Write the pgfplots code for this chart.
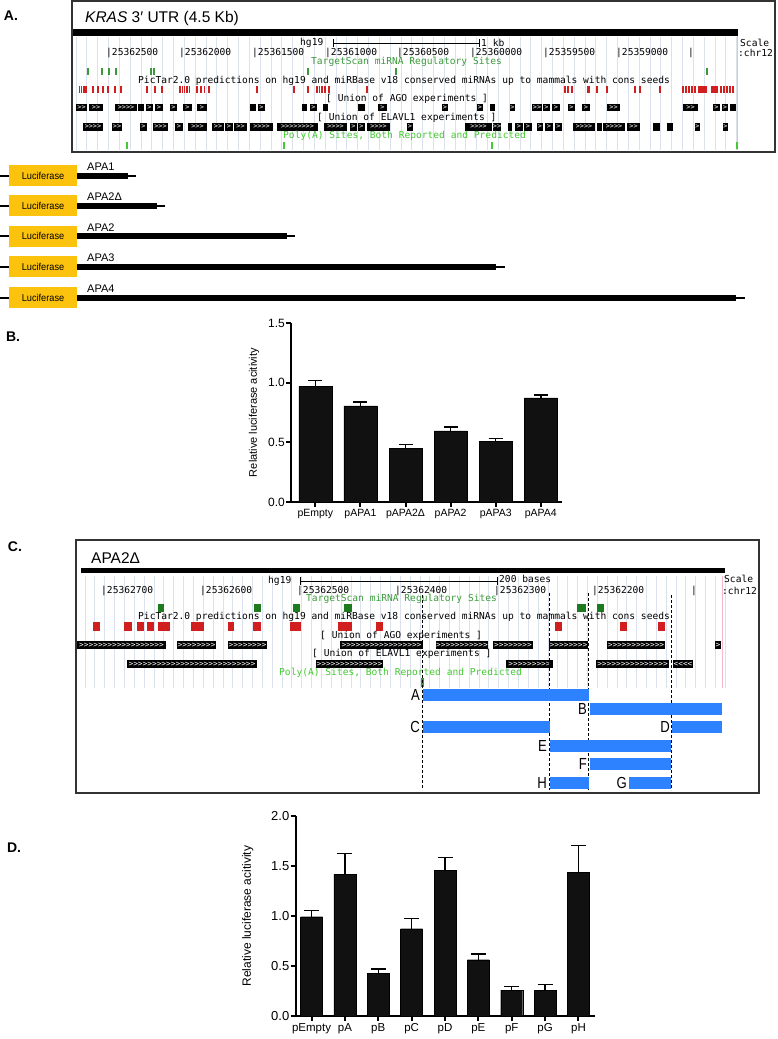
\documentclass[border=0pt]{standalone}
\usepackage{pgfplots}
\pgfplotsset{compat=1.18}
\usepackage{fontspec}
\setmainfont{Liberation Sans}
\setmonofont{DejaVu Sans Mono}
\definecolor{lucy}{HTML}{FCC30E}
\definecolor{tsgreen}{HTML}{3A9A3A}
\definecolor{pagreen}{HTML}{44C833}
\definecolor{gsq}{HTML}{1E7A1E}
\definecolor{rtk}{HTML}{D11F1F}
\definecolor{gridc}{HTML}{DCE1EE}
\definecolor{pinkl}{HTML}{F4B8C8}
\definecolor{blueb}{HTML}{2C82FF}
\definecolor{barc}{HTML}{111111}
\newcommand{\fs}[1]{\fontsize{#1}{#1}\selectfont}
\newcommand{\chev}[2]{\foreach\i in {1,...,#1}{#2}}
\tikzset{tt/.style={font=\fs{9.6}\ttfamily, anchor=west, inner sep=0pt},
  seg/.style={line width=#1}}
\begin{document}
\begin{tikzpicture}
\useasboundingbox (0pt,0pt) rectangle (778pt,-1039pt);
% ---------------- diagram layer (pixel coordinates) ----------------
\begin{axis}[at={(0pt,0pt)}, anchor=north west, scale only axis,
  width=778pt, height=1039pt, xmin=0, xmax=778, ymin=0, ymax=1039,
  y dir=reverse, hide axis, clip=false, unbounded coords=jump]
% panel letters
\node[font=\fs{14}\bfseries] at (axis cs:11,16) {A.};
\node[font=\fs{14}\bfseries] at (axis cs:13,337) {B.};
\node[font=\fs{14}\bfseries] at (axis cs:15,547) {C.};
\node[font=\fs{14}\bfseries] at (axis cs:14,848) {D.};
% ================= Panel A =================
\draw[line width=1.2pt, black!80] (axis cs:72,1) rectangle (axis cs:775,152);
\node[font=\fs{15.5}, anchor=west, inner sep=0pt] at (axis cs:85,18) {\textit{KRAS} 3′ UTR (4.5 Kb)};
\pgfplotsinvokeforeach{76,86.83,...,738}{\draw[gridc, line width=0.8pt] (axis cs:#1,37) -- (axis cs:#1,150);}
\draw[pinkl, line width=1pt] (axis cs:737.5,36) -- (axis cs:737.5,150);
\addplot[seg=7pt, black] coordinates {(73,32.5) (738,32.5)};
\node[tt] at (axis cs:300,43) {hg19};
\draw[line width=0.8pt] (axis cs:333,43) -- (axis cs:479,43);
\draw[line width=0.8pt] (axis cs:333,39) -- (axis cs:333,47);
\draw[line width=0.8pt] (axis cs:479,39) -- (axis cs:479,47);
\node[tt] at (axis cs:481,43) {1 kb};
\node[tt] at (axis cs:740,43) {Scale};
\node[tt] at (axis cs:738,53) {:chr12};
\node[tt] at (axis cs:106,53) {|25362500};
\node[tt] at (axis cs:179,53) {|25362000};
\node[tt] at (axis cs:252,53) {|25361500};
\node[tt] at (axis cs:325,53) {|25361000};
\node[tt] at (axis cs:397,53) {|25360500};
\node[tt] at (axis cs:470,53) {|25360000};
\node[tt] at (axis cs:543,53) {|25359500};
\node[tt] at (axis cs:616,53) {|25359000};
\node[tt] at (axis cs:688,53) {|};
\node[tt, text=tsgreen] at (axis cs:311,62) {TargetScan miRNA Regulatory Sites};
\addplot[seg=7pt, tsgreen] coordinates {
(87,71.5)(89,71.5)(89,nan)
(101,71.5)(103,71.5)(103,nan)
(108,71.5)(110,71.5)(110,nan)
(115,71.5)(117,71.5)(117,nan)
(150,71.5)(152,71.5)(152,nan)
(152.8,71.5)(154.8,71.5)(154.8,nan)
(307,71.5)(309,71.5)(309,nan)
(395,71.5)(397,71.5)(397,nan)
(706,71.5)(708,71.5)(708,nan)};
\node[tt] at (axis cs:138,81) {PicTar2.0 predictions on hg19 and miRBase v18 conserved miRNAs up to mammals with cons seeds};
\addplot[seg=7pt, rtk] coordinates {
(78.5,89.5)(80,89.5)(80,nan) (80.8,89.5)(82.3,89.5)(82.3,nan)
(83,89.5)(84.5,89.5)(84.5,nan) (85.3,89.5)(86.8,89.5)(86.8,nan)
(92.3,89.5)(93.8,89.5)(93.8,nan) (97.3,89.5)(98.8,89.5)(98.8,nan)
(102.3,89.5)(103.8,89.5)(103.8,nan) (107.3,89.5)(108.8,89.5)(108.8,nan)
(114.3,89.5)(115.8,89.5)(115.8,nan) (120.3,89.5)(121.8,89.5)(121.8,nan)
(146.3,89.5)(147.8,89.5)(147.8,nan) (154.3,89.5)(155.8,89.5)(155.8,nan)
(161.3,89.5)(162.8,89.5)(162.8,nan)
(179.3,89.5)(180.8,89.5)(180.8,nan) (181.5,89.5)(183,89.5)(183,nan)
(183.6,89.5)(185.1,89.5)(185.1,nan) (186,89.5)(187.5,89.5)(187.5,nan)
(188.5,89.5)(190,89.5)(190,nan)
(196.3,89.5)(197.8,89.5)(197.8,nan) (200,89.5)(201.5,89.5)(201.5,nan)
(203.5,89.5)(205,89.5)(205,nan) (208.3,89.5)(209.8,89.5)(209.8,nan)
(256.3,89.5)(257.8,89.5)(257.8,nan) (293.3,89.5)(294.8,89.5)(294.8,nan)
(307.3,89.5)(308.8,89.5)(308.8,nan)
(316.3,89.5)(317.8,89.5)(317.8,nan) (318.8,89.5)(320.3,89.5)(320.3,nan)
(321.3,89.5)(322.8,89.5)(322.8,nan) (324.3,89.5)(325.8,89.5)(325.8,nan)
(328,89.5)(330,89.5)(330,nan)
(366.3,89.5)(367.8,89.5)(367.8,nan)
(564.3,89.5)(565.8,89.5)(565.8,nan) (567.3,89.5)(568.8,89.5)(568.8,nan)
(571.3,89.5)(572.8,89.5)(572.8,nan)
(587,89.5)(589.5,89.5)(589.5,nan) (596.3,89.5)(597.8,89.5)(597.8,nan)
(605.8,89.5)(608.3,89.5)(608.3,nan)
(634.3,89.5)(635.8,89.5)(635.8,nan) (639.3,89.5)(640.8,89.5)(640.8,nan)
(659.3,89.5)(660.8,89.5)(660.8,nan)
(682.3,89.5)(683.8,89.5)(683.8,nan) (685.3,89.5)(686.8,89.5)(686.8,nan)
(688.3,89.5)(689.8,89.5)(689.8,nan) (691.3,89.5)(692.8,89.5)(692.8,nan)
(694.3,89.5)(695.8,89.5)(695.8,nan)
(698,89.5)(707,89.5)(707,nan)
(711,89.5)(718,89.5)(718,nan)
(720.3,89.5)(721.8,89.5)(721.8,nan) (723.3,89.5)(724.8,89.5)(724.8,nan)
(726.3,89.5)(727.8,89.5)(727.8,nan) (729.3,89.5)(730.8,89.5)(730.8,nan)
(732.3,89.5)(733.8,89.5)(733.8,nan)};
\node[tt] at (axis cs:326,99) {[ Union of AGO experiments ]};
\addplot[seg=7pt, black] coordinates {
(76,107.5)(87,107.5)(87,nan) (89,107.5)(103,107.5)(103,nan)
(115,107.5)(137,107.5)(137,nan) (138,107.5)(144,107.5)(144,nan)
(146,107.5)(153,107.5)(153,nan) (155,107.5)(163,107.5)(163,nan)
(170,107.5)(177,107.5)(177,nan) (183,107.5)(192,107.5)(192,nan)
(197,107.5)(207,107.5)(207,nan) (250,107.5)(256,107.5)(256,nan)
(258,107.5)(265,107.5)(265,nan) (302,107.5)(307,107.5)(307,nan)
(310,107.5)(317,107.5)(317,nan) (323,107.5)(328,107.5)(328,nan)
(358,107.5)(365,107.5)(365,nan) (378,107.5)(387,107.5)(387,nan)
(442,107.5)(448,107.5)(448,nan) (477,107.5)(483,107.5)(483,nan)
(490,107.5)(495,107.5)(495,nan) (510,107.5)(515,107.5)(515,nan)
(532,107.5)(542,107.5)(542,nan) (543,107.5)(550,107.5)(550,nan)
(552,107.5)(560,107.5)(560,nan) (568,107.5)(575,107.5)(575,nan)
(582,107.5)(590,107.5)(590,nan) (607,107.5)(620,107.5)(620,nan)
(683,107.5)(698,107.5)(698,nan) (713,107.5)(720,107.5)(720,nan)
(722,107.5)(728,107.5)(728,nan) (730,107.5)(736,107.5)(736,nan)};
\node[tt] at (axis cs:317,118) {[ Union of ELAVL1 experiments ]};
\addplot[seg=8pt, black] coordinates {
(83,127)(103,127)(103,nan) (112,127)(122,127)(122,nan)
(140,127)(147,127)(147,nan) (153,127)(168,127)(168,nan)
(175,127)(183,127)(183,nan) (188,127)(207,127)(207,nan)
(212,127)(224,127)(224,nan) (225,127)(233,127)(233,nan)
(234,127)(247,127)(247,nan) (250,127)(273,127)(273,nan)
(277,127)(318,127)(318,nan) (324,127)(347,127)(347,nan)
(350,127)(357,127)(357,nan) (358,127)(365,127)(365,nan)
(367,127)(390,127)(390,nan) (407,127)(413,127)(413,nan)
(465,127)(492,127)(492,nan) (493,127)(501,127)(501,nan)
(508,127)(512,127)(512,nan) (515,127)(523,127)(523,nan)
(524,127)(532,127)(532,nan) (537,127)(543,127)(543,nan)
(545,127)(553,127)(553,nan) (555,127)(562,127)(562,nan)
(573,127)(595,127)(595,nan) (597,127)(602,127)(602,nan)
(603,127)(625,127)(625,nan) (627,127)(640,127)(640,nan)
(653,127)(660,127)(660,nan) (667,127)(673,127)(673,nan)
(695,127)(700,127)(700,nan) (723,127)(728,127)(728,nan)};
% chevrons panel A
\begin{scope}[every node/.style={font=\fs{6.8}\ttfamily, text=white, inner sep=0pt}]
\node at (axis cs:81.5,107.5) {\chev{2}{>}};
\node at (axis cs:96,107.5) {\chev{2}{>}};
\node at (axis cs:126,107.5) {\chev{4}{>}};
\node at (axis cs:149.5,107.5) {>};
\node at (axis cs:159,107.5) {>};
\node at (axis cs:173.5,107.5) {>};
\node at (axis cs:187.5,107.5) {>};
\node at (axis cs:202,107.5) {>};
\node at (axis cs:261.5,107.5) {>};
\node at (axis cs:313.5,107.5) {>};
\node at (axis cs:382.5,107.5) {>};
\node at (axis cs:445,107.5) {>};
\node at (axis cs:480,107.5) {>};
\node at (axis cs:512.5,107.5) {>};
\node at (axis cs:537,107.5) {\chev{2}{>}};
\node at (axis cs:546.5,107.5) {>};
\node at (axis cs:556,107.5) {>};
\node at (axis cs:571.5,107.5) {>};
\node at (axis cs:586,107.5) {>};
\node at (axis cs:613.5,107.5) {\chev{2}{>}};
\node at (axis cs:690.5,107.5) {\chev{2}{>}};
\node at (axis cs:716.5,107.5) {>};
\node at (axis cs:725,107.5) {>};
\node at (axis cs:93,127) {\chev{4}{>}};
\node at (axis cs:117,127) {\chev{2}{>}};
\node at (axis cs:143.5,127) {>};
\node at (axis cs:160.5,127) {\chev{3}{>}};
\node at (axis cs:179,127) {>};
\node at (axis cs:197.5,127) {\chev{3}{>}};
\node at (axis cs:218,127) {\chev{2}{>}};
\node at (axis cs:229,127) {>};
\node at (axis cs:240.5,127) {\chev{2}{>}};
\node at (axis cs:261.5,127) {\chev{4}{>}};
\node at (axis cs:297.5,127) {\chev{8}{>}};
\node at (axis cs:335.5,127) {\chev{4}{>}};
\node at (axis cs:353.5,127) {>};
\node at (axis cs:361.5,127) {>};
\node at (axis cs:378.5,127) {\chev{4}{>}};
\node at (axis cs:410,127) {>};
\node at (axis cs:478.5,127) {\chev{4}{>}};
\node at (axis cs:497,127) {\chev{2}{>}};
\node at (axis cs:519,127) {>};
\node at (axis cs:528,127) {>};
\node at (axis cs:540,127) {>};
\node at (axis cs:549,127) {>};
\node at (axis cs:558.5,127) {>};
\node at (axis cs:584,127) {\chev{4}{>}};
\node at (axis cs:614,127) {\chev{4}{>}};
\node at (axis cs:633.5,127) {\chev{2}{>}};
\node at (axis cs:697.5,127) {>};
\node at (axis cs:725.5,127) {>};
\end{scope}
\node[tt, text=pagreen] at (axis cs:283,136) {Poly(A) Sites, Both Reported and Predicted};
\addplot[seg=7pt, pagreen] coordinates {
(126.2,145)(127.8,145)(127.8,nan) (283.2,145)(284.8,145)(284.8,nan)
(491.2,145)(492.8,145)(492.8,nan) (736.2,145)(737.8,145)(737.8,nan)};
% ================= Constructs =================
\addplot[seg=2pt, black] coordinates {
(0,175.5)(9,175.5)(9,nan) (0,205.5)(9,205.5)(9,nan) (0,236)(9,236)(9,nan)
(0,266.5)(9,266.5)(9,nan) (0,297.5)(9,297.5)(9,nan)
(128,175.5)(136,175.5)(136,nan) (157,205.5)(165,205.5)(165,nan)
(287,236)(295,236)(295,nan) (496,266.5)(505,266.5)(505,nan)
(736,297.5)(745,297.5)(745,nan)};
\addplot[seg=6pt, black] coordinates {
(77,175.5)(128,175.5)(128,nan) (77,205.5)(157,205.5)(157,nan)
(77,236)(287,236)(287,nan) (77,266.5)(496,266.5)(496,nan)
(77,297.5)(736,297.5)(736,nan)};
\addplot[seg=21pt, lucy] coordinates {
(9,175.5)(77,175.5)(77,nan) (9,205.5)(77,205.5)(77,nan) (9,236)(77,236)(77,nan)
(9,266.5)(77,266.5)(77,nan) (9,297.5)(77,297.5)(77,nan)};
\begin{scope}[every node/.style={font=\fs{10}, xscale=0.92}]
\node at (axis cs:43,175.5) {Luciferase};
\node at (axis cs:43,205.5) {Luciferase};
\node at (axis cs:43,236) {Luciferase};
\node at (axis cs:43,266.5) {Luciferase};
\node at (axis cs:43,297.5) {Luciferase};
\end{scope}
\node[font=\fs{11}, anchor=south west, inner sep=0pt] at (axis cs:87,171) {APA1};
\node[font=\fs{11}, anchor=south west, inner sep=0pt] at (axis cs:87,201) {APA2Δ};
\node[font=\fs{11}, anchor=south west, inner sep=0pt] at (axis cs:87,231.5) {APA2};
\node[font=\fs{11}, anchor=south west, inner sep=0pt] at (axis cs:87,262) {APA3};
\node[font=\fs{11}, anchor=south west, inner sep=0pt] at (axis cs:87,293) {APA4};
% ================= Panel C =================
\draw[line width=1.2pt, black!80] (axis cs:76,540) rectangle (axis cs:759,793);
\node[font=\fs{15.5}, anchor=west, inner sep=0pt] at (axis cs:91,558) {APA2Δ};
\pgfplotsinvokeforeach{85,94.85,...,721}{\draw[gridc, line width=0.8pt] (axis cs:#1,576) -- (axis cs:#1,688);}
\draw[pinkl, line width=1pt] (axis cs:722.5,576) -- (axis cs:722.5,688);
\addplot[seg=5pt, black] coordinates {(81,570.5) (725,570.5)};
\node[tt] at (axis cs:268,581) {hg19};
\draw[line width=0.8pt] (axis cs:300.7,581) -- (axis cs:497,581);
\draw[line width=0.8pt] (axis cs:300.7,577) -- (axis cs:300.7,585);
\draw[line width=0.8pt] (axis cs:497,577) -- (axis cs:497,585);
\node[tt] at (axis cs:499,579) {200 bases};
\node[tt] at (axis cs:724,579) {Scale};
\node[tt] at (axis cs:722,591) {:chr12};
\node[tt] at (axis cs:101,591) {|25362700};
\node[tt] at (axis cs:200,591) {|25362600};
\node[tt] at (axis cs:297,591) {|25362500};
\node[tt] at (axis cs:395,591) {|25362400};
\node[tt] at (axis cs:494,591) {|25362300};
\node[tt] at (axis cs:592,591) {|25362200};
\node[tt] at (axis cs:691,591) {|};
\node[tt, text=tsgreen] at (axis cs:306,599) {TargetScan miRNA Regulatory Sites};
\addplot[seg=8pt, gsq] coordinates {
(158,608)(164,608)(164,nan) (254,608)(261,608)(261,nan)
(293,608)(300,608)(300,nan) (344,608)(352,608)(352,nan)
(577,608)(586,608)(586,nan) (597,608)(604,608)(604,nan)};
\node[tt] at (axis cs:138,617) {PicTar2.0 predictions on hg19 and miRBase v18 conserved miRNAs up to mammals with cons seeds};
\addplot[seg=9pt, rtk] coordinates {
(93,626.5)(100,626.5)(100,nan) (124,626.5)(132,626.5)(132,nan)
(137,626.5)(144,626.5)(144,nan) (147,626.5)(154,626.5)(154,nan)
(158,626.5)(170,626.5)(170,nan) (191,626.5)(204,626.5)(204,nan)
(228,626.5)(234,626.5)(234,nan) (253,626.5)(261,626.5)(261,nan)
(290,626.5)(301,626.5)(301,nan) (338,626.5)(352,626.5)(352,nan)
(376,626.5)(383,626.5)(383,nan) (555,626.5)(562,626.5)(562,nan)
(620,626.5)(627,626.5)(627,nan) (658,626.5)(665,626.5)(665,nan)};
\node[tt] at (axis cs:320,636) {[ Union of AGO experiments ]};
\addplot[seg=8pt, black] coordinates {
(77,645)(166,645)(166,nan) (177,645)(216,645)(216,nan)
(228,645)(267,645)(267,nan) (340,645)(423,645)(423,nan)
(436,645)(488,645)(488,nan) (493,645)(533,645)(533,nan)
(549,645)(588,645)(588,nan) (607,645)(665,645)(665,nan)
(715,645)(721,645)(721,nan)};
\node[tt] at (axis cs:312,654) {[ Union of ELAVL1 experiments ]};
\addplot[seg=8pt, black] coordinates {
(127,664)(257,664)(257,nan) (316,664)(383,664)(383,nan)
(506,664)(553,664)(553,nan) (596,664)(669,664)(669,nan)
(673,664)(693,664)(693,nan)};
\node[tt, text=pagreen] at (axis cs:279,673) {Poly(A) Sites, Both Reported and Predicted};
\addplot[seg=9pt, tsgreen] coordinates {(421,682.5)(423.5,682.5)};
% chevrons
\begin{scope}[every node/.style={font=\fs{7.8}\ttfamily, text=white, inner sep=0pt}]
\node at (axis cs:121.5,645) {\chev{18}{>}};
\node at (axis cs:196.5,645) {\chev{8}{>}};
\node at (axis cs:247.5,645) {\chev{8}{>}};
\node at (axis cs:381.5,645) {\chev{17}{>}};
\node at (axis cs:462,645) {\chev{11}{>}};
\node at (axis cs:513,645) {\chev{8}{>}};
\node at (axis cs:568.5,645) {\chev{8}{>}};
\node at (axis cs:636,645) {\chev{12}{>}};
\node at (axis cs:718,645) {>};
\node at (axis cs:192,664) {\chev{27}{>}};
\node at (axis cs:349.5,664) {\chev{14}{>}};
\node at (axis cs:529.5,664) {\chev{9}{>}};
\node at (axis cs:632.5,664) {\chev{15}{>}};
\node at (axis cs:683,664) {\chev{4}{<}};
\end{scope}
% dashed guides
\draw[line width=0.8pt, dash pattern=on 3pt off 2pt] (axis cs:422.7,595) -- (axis cs:422.7,790);
\draw[line width=0.8pt, dash pattern=on 3pt off 2pt] (axis cs:549.5,593) -- (axis cs:549.5,790);
\draw[line width=0.8pt, dash pattern=on 3pt off 2pt] (axis cs:588.5,593) -- (axis cs:588.5,790);
\draw[line width=0.8pt, dash pattern=on 3pt off 2pt] (axis cs:671.5,595) -- (axis cs:671.5,790);
% fragments
\addplot[seg=12pt, blueb] coordinates {
(422.7,695)(588.5,695)(588.5,nan)
(589.5,709)(721.6,709)(721.6,nan)
(422.7,727)(550,727)(550,nan)
(672,726.5)(721.6,726.5)(721.6,nan)
(550,746)(671,746)(671,nan)
(589.5,764)(671,764)(671,nan)
(550,782.5)(588.5,782.5)(588.5,nan)
(629,782.5)(671,782.5)(671,nan)};
\begin{scope}[every node/.style={font=\fs{16}, anchor=east, inner sep=0pt, xscale=0.82}]
\node at (axis cs:420,695) {A};
\node at (axis cs:587,709) {B};
\node at (axis cs:420,727) {C};
\node at (axis cs:670,727) {D};
\node at (axis cs:547,746) {E};
\node at (axis cs:587,764) {F};
\node at (axis cs:547,782.5) {H};
\node at (axis cs:627,782.5) {G};
\end{scope}
\end{axis}
% ---------------- Panel B ----------------
\begin{axis}[at={(291pt,-502pt)}, anchor=south west, scale only axis,
  width=271pt, height=179pt, xmin=-0.54, xmax=5.47, ymin=0, ymax=1.5,
  axis x line=bottom, axis y line=left, axis line style={line width=2pt,-},
  tick align=outside, major tick length=5pt, tick style={line width=2pt, black},
  xtick={0,...,5}, xticklabels={pEmpty,pAPA1,pAPA2Δ,pAPA2,pAPA3,pAPA4},
  ytick={0,0.5,1,1.5},
  /pgf/number format/assume math mode=true,
  yticklabel style={/pgf/number format/fixed, /pgf/number format/fixed zerofill, /pgf/number format/precision=1, font=\fs{12}, inner sep=1pt},
  xticklabel style={font=\fs{10.5}, inner sep=2pt},
  ylabel={Relative luciferase acitivity},
  every axis y label/.style={at={(axis description cs:-0.136,0.5)}, rotate=90, anchor=center, font=\fs{11}}]
\addplot[ybar, bar width=33pt, fill=barc, draw=black,
  error bars/.cd, y dir=plus, y explicit,
  error bar style={line width=1.5pt, black},
  error mark options={rotate=90, mark size=7pt, line width=1.5pt, black}]
coordinates {(0,0.970) +- (0,0.050) (1,0.806) +- (0,0.034) (2,0.452) +- (0,0.028)
 (3,0.597) +- (0,0.033) (4,0.510) +- (0,0.023) (5,0.873) +- (0,0.025)};
\end{axis}
% ---------------- Panel D ----------------
\begin{axis}[at={(295.5pt,-1016pt)}, anchor=south west, scale only axis,
  width=299pt, height=200pt, xmin=-0.48, xmax=8.48, ymin=0, ymax=2,
  axis x line=bottom, axis y line=left, axis line style={line width=2pt,-},
  tick align=outside, major tick length=5pt, tick style={line width=2pt, black},
  xtick={0,...,8}, xticklabels={pEmpty,pA,pB,pC,pD,pE,pF,pG,pH},
  ytick={0,0.5,1,1.5,2},
  /pgf/number format/assume math mode=true,
  yticklabel style={/pgf/number format/fixed, /pgf/number format/fixed zerofill, /pgf/number format/precision=1, font=\fs{13}, inner sep=1pt},
  xticklabel style={font=\fs{11.5}, inner sep=2pt},
  ylabel={Relative luciferase acitivity},
  every axis y label/.style={at={(axis description cs:-0.16,0.5)}, rotate=90, anchor=center, font=\fs{12}}]
\addplot[ybar, bar width=22pt, fill=barc, draw=black,
  error bars/.cd, y dir=plus, y explicit,
  error bar style={line width=1.5pt, black},
  error mark options={rotate=90, mark size=7.5pt, line width=1.5pt, black}]
coordinates {(0,0.993) +- (0,0.060) (1,1.420) +- (0,0.207) (2,0.427) +- (0,0.043)
 (3,0.873) +- (0,0.100) (4,1.460) +- (0,0.127) (5,0.563) +- (0,0.057)
 (6,0.260) +- (0,0.037) (7,0.260) +- (0,0.053) (8,1.437) +- (0,0.266)};
\end{axis}
\end{tikzpicture}
\end{document}
